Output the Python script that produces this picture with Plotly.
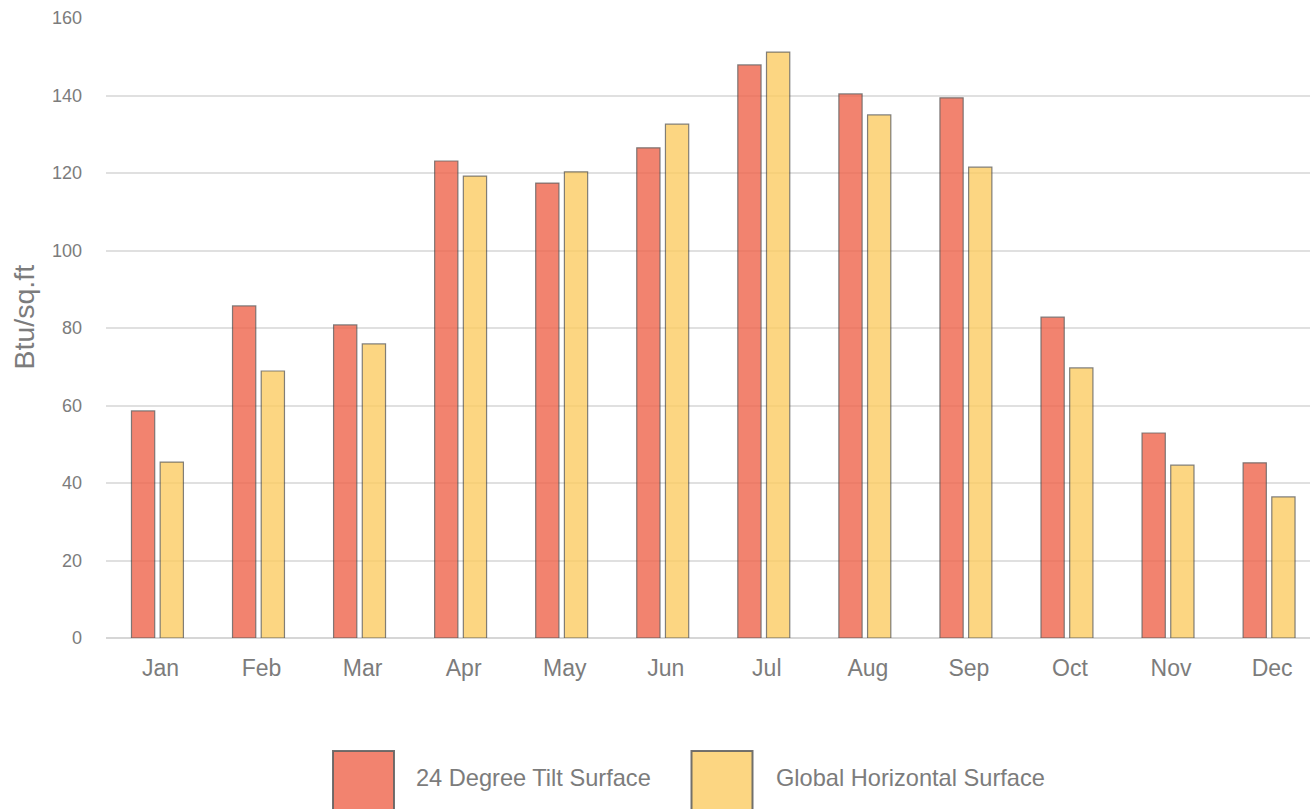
import plotly.graph_objects as go

months = ["Jan", "Feb", "Mar", "Apr", "May", "Jun", "Jul", "Aug", "Sep", "Oct", "Nov", "Dec"]
tilt_24 = [58.6, 85.7, 80.8, 123.1, 117.4, 126.5, 147.9, 140.4, 139.4, 82.8, 52.9, 45.2]
global_horizontal = [45.4, 68.9, 75.9, 119.2, 120.3, 132.6, 151.2, 135.0, 121.5, 69.7, 44.6, 36.4]
series_names = ["24 Degree Tilt Surface", "Global Horizontal Surface"]
y_ticks = [0, 20, 40, 60, 80, 100, 120, 140, 160]
y_title = "Btu/sq.ft"

W, H = 1310, 809
ML, MR, MT, MB = 106, 0, 18, 171
PW, PH = W - ML - MR, H - MT - MB

RED = "rgb(239,101,76)"
YEL = "rgb(252,205,99)"
TXT = "#7c7c7c"
FONT = "Arial, Liberation Sans, sans-serif"

fig = go.Figure()
fig.add_trace(go.Bar(x=months, y=tilt_24, name=series_names[0], width=0.23, offset=-0.287,
                     marker=dict(color=RED, opacity=0.8, line=dict(color="rgba(60,60,60,0.8)", width=1.2)),
                     showlegend=False))
fig.add_trace(go.Bar(x=months, y=global_horizontal, name=series_names[1], width=0.23, offset=-0.003,
                     marker=dict(color=YEL, opacity=0.8, line=dict(color="rgba(60,60,60,0.8)", width=1.2)),
                     showlegend=False))

def px_x(p):
    return (p - ML) / PW

def px_y(p):
    return (MT + PH - p) / PH

# legend drawn as boxes + labels
legend_items = [(333, 394, 414, RED, series_names[0]), (691.5, 752.5, 774, YEL, series_names[1])]
for x0, x1, tx, col, label in legend_items:
    fig.add_shape(type="rect", xref="paper", yref="paper",
                  x0=px_x(x0), x1=px_x(x1), y0=px_y(751), y1=px_y(830),
                  fillcolor=col, opacity=0.8, line=dict(color="rgba(60,60,60,0.9)", width=2))
    fig.add_annotation(x=px_x(tx), y=px_y(778), xref="paper", yref="paper", text=label,
                       showarrow=False, xanchor="left", yanchor="middle",
                       font=dict(family=FONT, size=23.6, color=TXT))

# y-axis title
fig.add_annotation(x=px_x(23), y=px_y(317.5), xref="paper", yref="paper", text=y_title,
                   textangle=-90, showarrow=False, xanchor="center", yanchor="middle",
                   font=dict(family=FONT, size=28.5, color=TXT))

fig.update_layout(
    width=W, height=H, autosize=False,
    margin=dict(l=ML, r=MR, t=MT, b=MB, pad=0),
    paper_bgcolor="white", plot_bgcolor="white",
    barmode="group",
    font=dict(family=FONT, color=TXT),
    xaxis=dict(range=[-0.539, 11.375], showgrid=False, showline=False, ticks="",
               tickfont=dict(size=23, color=TXT), ticklabelstandoff=14),
    yaxis=dict(range=[0, 160], tickvals=y_ticks, showgrid=True, gridcolor="#e0e0e0", gridwidth=1.5,
               zeroline=True, zerolinecolor="#d6d6d6", zerolinewidth=2, showline=False, ticks="",
               tickfont=dict(size=18, color=TXT), ticklabelstandoff=23),
)

fig.write_html("out.html", config={"displayModeBar": False},
               post_script="document.body.style.margin='0';")
